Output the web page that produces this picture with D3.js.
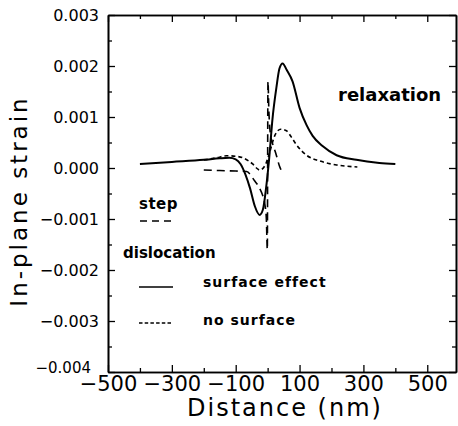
<!DOCTYPE html>
<html>
<head>
<meta charset="utf-8">
<script src="https://cdn.jsdelivr.net/npm/d3@7"></script>
<style>
  body { margin: 0; background: #fff; }
  svg { display: block; }
</style>
</head>
<body>
<div id="chart"></div>
<script>
// data (distance in nm, in-plane strain)
var surfX = [-400, -300, -200, -150, -120, -100, -85, -70, -55, -40, -25, -15, -5, 5, 15, 28, 37, 47, 60, 78, 100, 122, 141, 172, 216, 278, 350, 400];
var surfY = [0.00008, 0.00012, 0.00016, 0.00019, 0.0002, 0.00017, 0.00008, -0.00012, -0.0004, -0.00075, -0.00092, -0.00082, -0.0004, 0.0002, 0.00095, 0.0016, 0.00195, 0.00205, 0.00192, 0.0017, 0.00118, 0.00084, 0.00063, 0.00043, 0.00025, 0.00016, 0.0001, 0.00008];

var noSurfX = [-200, -160, -128, -100, -78, -60, -47, -35, -25, -9, 6, 22, 41, 59, 75, 91, 122, 162, 216, 281];
var noSurfY = [0.00016, 0.0002, 0.00024, 0.00023, 0.0002, 0.00014, 0.00008, 0.0000, -0.00004, 0.00004, 0.0003, 0.00063, 0.00076, 0.00073, 0.0006, 0.00045, 0.00025, 0.00014, 0.00006, 0.00002];

var stepX = [-200, -150, -100, -66, -41, -25, -16, -9, -4, -1, 1, 4, 9, 17, 25, 37, 47];
var stepY = [-0.00004, -0.00005, -0.00006, -0.00007, -0.00025, -0.0004, -0.00053, -0.0007, -0.001, -0.0016, 0.0017, 0.0011, 0.00065, 0.00045, 0.0003, 0.00004, -0.0001];

var xMajor = [-500, -300, -100, 100, 300, 500];
var xMinor = [-400, -200, 0, 200, 400];
var yMajor = [-0.004, -0.003, -0.002, -0.001, 0, 0.001, 0.002, 0.003];
var yMinor = [-0.0035, -0.0025, -0.0015, -0.0005, 0.0005, 0.0015, 0.0025];

var width = 458, height = 426;
var padLeft = 108, padRight = 456, padTop = 15, padBottom = 372;

var svg = d3.select("#chart").append("svg")
    .attr("width", width)
    .attr("height", height)

var x = d3.scaleLinear().domain([-500, 590]).range([padLeft, padRight])
var y = d3.scaleLinear().domain([-0.004, 0.003]).range([padBottom, padTop])

function styleAxis(g) {
    g.select(".domain").attr("stroke", "#000").attr("stroke-width", 1.6)
    g.selectAll(".tick line").attr("stroke", "#000").attr("stroke-width", 1.3)
    g.selectAll("text").attr("fill", "#000").attr("font-family", "DejaVu Sans")
}

// bottom
svg.append("g").attr("transform", "translate(0," + padBottom + ")")
    .call(d3.axisBottom(x).tickValues(xMajor).tickSize(-7).tickSizeOuter(0).tickPadding(4).tickFormat(d3.format("d")))
    .call(styleAxis)
    .selectAll("text").attr("font-size", 21)
svg.append("g").attr("transform", "translate(0," + padBottom + ")")
    .call(d3.axisBottom(x).tickValues(xMinor).tickSize(-4).tickSizeOuter(0).tickFormat(""))
    .call(styleAxis)
// top
svg.append("g").attr("transform", "translate(0," + padTop + ")")
    .call(d3.axisTop(x).tickValues(xMajor).tickSize(-7).tickSizeOuter(0).tickFormat(""))
    .call(styleAxis)
svg.append("g").attr("transform", "translate(0," + padTop + ")")
    .call(d3.axisTop(x).tickValues(xMinor).tickSize(-4).tickSizeOuter(0).tickFormat(""))
    .call(styleAxis)
// left
var yl = svg.append("g").attr("transform", "translate(" + padLeft + ",0)")
    .call(d3.axisLeft(y).tickValues(yMajor).tickSize(-7).tickSizeOuter(0).tickPadding(9).tickFormat(d3.format(".3f")))
    .call(styleAxis)
yl.selectAll("text").attr("font-size", 16)
yl.selectAll(".tick").filter(function(d) { return d === -0.004 }).select("text")
    .attr("dx", -8).attr("dy", "0.05em").attr("font-size", 15)
svg.append("g").attr("transform", "translate(" + padLeft + ",0)")
    .call(d3.axisLeft(y).tickValues(yMinor).tickSize(-4).tickSizeOuter(0).tickFormat(""))
    .call(styleAxis)
// right
svg.append("g").attr("transform", "translate(" + padRight + ",0)")
    .call(d3.axisRight(y).tickValues(yMajor).tickSize(-7).tickSizeOuter(0).tickFormat(""))
    .call(styleAxis)
svg.append("g").attr("transform", "translate(" + padRight + ",0)")
    .call(d3.axisRight(y).tickValues(yMinor).tickSize(-4).tickSizeOuter(0).tickFormat(""))
    .call(styleAxis)

// axis titles
svg.append("text")
    .attr("x", 285).attr("y", 416)
    .attr("text-anchor", "middle")
    .attr("font-family", "DejaVu Sans").attr("font-size", 24)
    .attr("letter-spacing", 2)
    .text("Distance (nm)")
svg.append("text")
    .attr("transform", "translate(27,201) rotate(-90)")
    .attr("text-anchor", "middle")
    .attr("font-family", "DejaVu Sans").attr("font-size", 23)
    .attr("letter-spacing", 3)
    .text("In-plane strain")

// curves
var line = d3.line()
    .x(function(d) { return x(d[0]) })
    .y(function(d) { return y(d[1]) })
    .curve(d3.curveMonotoneX)

var series = [
    { xs: surfX, ys: surfY, dash: null, w: 2 },
    { xs: noSurfX, ys: noSurfY, dash: "4,3", w: 1.6 },
    { xs: stepX, ys: stepY, dash: "8,5", w: 1.6 }
]

svg.selectAll(".curve")
    .data(series)
    .enter().append("path")
    .attr("class", "curve")
    .attr("fill", "none")
    .attr("stroke", "#000")
    .attr("stroke-width", function(d) { return d.w })
    .attr("stroke-dasharray", function(d) { return d.dash })
    .attr("d", function(d) { return line(d.xs.map(function(v, i) { return [v, d.ys[i]] })) })

// legend and notes
function label(tx, ty, size, txt, ls) {
    svg.append("text")
        .attr("x", tx).attr("y", ty)
        .attr("font-family", "DejaVu Sans").attr("font-weight", "bold")
        .attr("font-size", size)
        .attr("letter-spacing", ls || 0)
        .text(txt)
}
label(338, 101, 18, "relaxation")
label(139, 209, 15, "step", 0.5)
label(123, 258, 15, "dislocation")
label(203, 287, 14, "surface effect", 1)
label(203, 325, 14, "no surface", 1)

var legendLines = [
    { y: 221, x1: 140, x2: 172, dash: "7,5", w: 1.5 },
    { y: 287, x1: 139, x2: 173, dash: null, w: 1.5 },
    { y: 323, x1: 139, x2: 172, dash: "3.5,2.2", w: 1.5 }
]
svg.selectAll(".leg")
    .data(legendLines)
    .enter().append("line")
    .attr("class", "leg")
    .attr("x1", function(d) { return d.x1 })
    .attr("x2", function(d) { return d.x2 })
    .attr("y1", function(d) { return d.y })
    .attr("y2", function(d) { return d.y })
    .attr("stroke", "#000")
    .attr("stroke-width", function(d) { return d.w })
    .attr("stroke-dasharray", function(d) { return d.dash })
</script>
</body>
</html>
